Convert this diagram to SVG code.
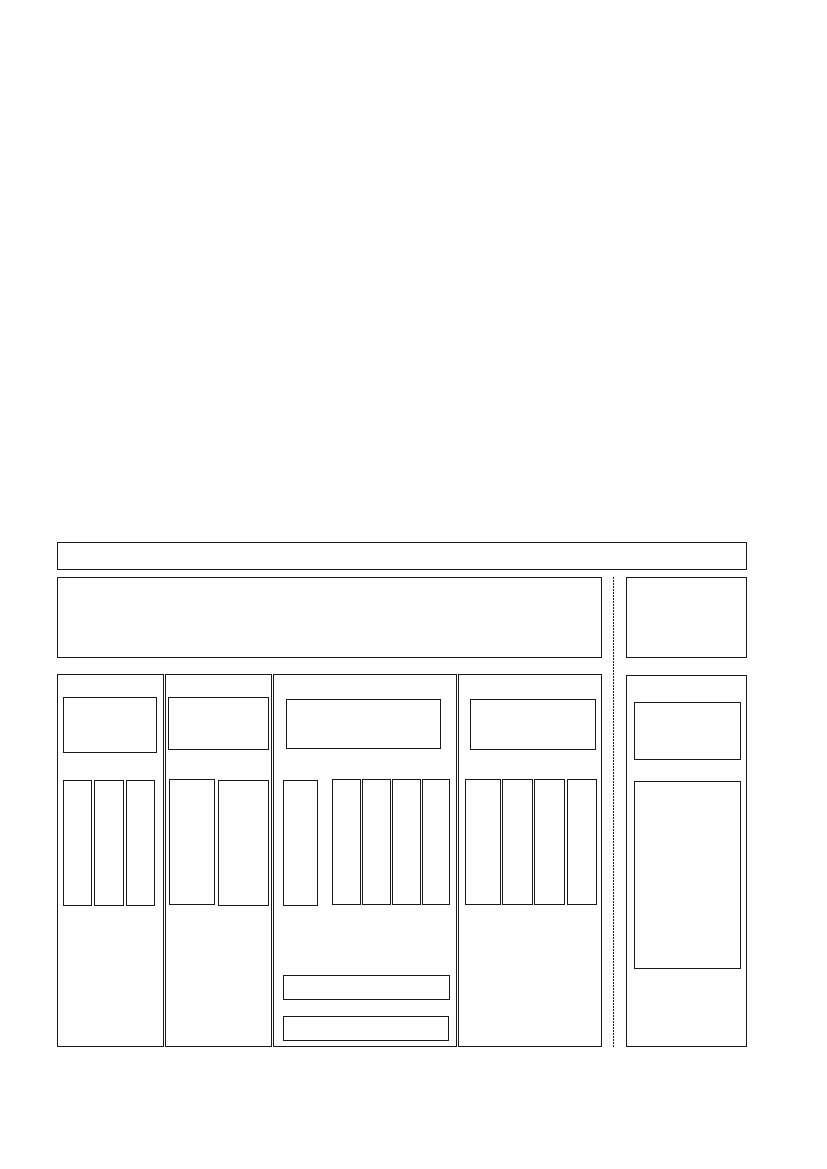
<svg xmlns="http://www.w3.org/2000/svg" width="827" height="1169" viewBox="0 0 827 1169">
<style>
.b{fill:none;stroke:#1a1a1a;stroke-width:1}
.d{fill:none;stroke:#1a1a1a;stroke-width:1;stroke-dasharray:2 1}
</style>
<rect width="827" height="1169" fill="#fff"/>
<g id="top-bar"><rect class="b" x="57.5" y="542.5" width="689" height="27"/></g>
<g id="header-box"><rect class="b" x="57.5" y="577.5" width="544" height="80"/></g>
<g id="right-header"><rect class="b" x="626.5" y="577.5" width="120" height="80"/></g>
<g id="col1">
<rect class="b" x="57.5" y="674.5" width="106" height="372"/>
<rect class="b" x="63.5" y="697.5" width="93" height="55"/>
<rect class="b" x="63.5" y="780.5" width="28" height="125"/>
<rect class="b" x="94.5" y="780.5" width="29" height="125"/>
<rect class="b" x="126.5" y="780.5" width="28" height="125"/>
</g>
<g id="col2">
<rect class="b" x="165.5" y="674.5" width="106" height="372"/>
<rect class="b" x="168.5" y="697.5" width="100" height="52"/>
<rect class="b" x="169.5" y="779.5" width="45" height="125"/>
<rect class="b" x="218.5" y="780.5" width="50" height="125"/>
</g>
<g id="col3">
<rect class="b" x="273.5" y="674.5" width="183" height="372"/>
<rect class="b" x="286.5" y="699.5" width="154" height="49"/>
<rect class="b" x="283.5" y="780.5" width="34" height="125"/>
<rect class="b" x="332.5" y="779.5" width="28" height="125"/>
<rect class="b" x="362.5" y="779.5" width="28" height="125"/>
<rect class="b" x="392.5" y="779.5" width="28" height="125"/>
<rect class="b" x="422.5" y="779.5" width="27" height="125"/>
<rect class="b" x="283.5" y="975.5" width="166" height="24"/>
<rect class="b" x="283.5" y="1016.5" width="165" height="24"/>
</g>
<g id="col4">
<rect class="b" x="458.5" y="674.5" width="143" height="372"/>
<rect class="b" x="470.5" y="699.5" width="125" height="50"/>
<rect class="b" x="465.5" y="779.5" width="35" height="125"/>
<rect class="b" x="502.5" y="779.5" width="30" height="125"/>
<rect class="b" x="534.5" y="779.5" width="30" height="125"/>
<rect class="b" x="567.5" y="779.5" width="29" height="125"/>
</g>
<g id="right-col">
<rect class="b" x="626.5" y="675.5" width="120" height="371"/>
<rect class="b" x="634.5" y="702.5" width="106" height="57"/>
<rect class="b" x="634.5" y="781.5" width="106" height="187"/>
</g>
<g id="connectors">
<line class="d" x1="613.5" y1="577" x2="613.5" y2="1047"/>
</g>
</svg>
